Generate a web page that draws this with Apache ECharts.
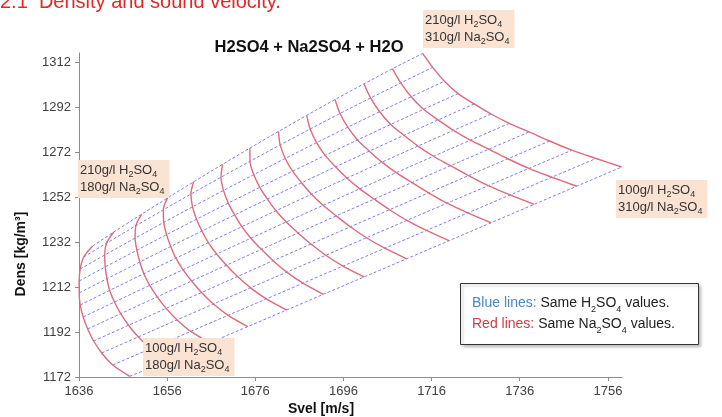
<!DOCTYPE html>
<html>
<head>
<meta charset="utf-8">
<script src="https://cdn.jsdelivr.net/npm/echarts@6/dist/echarts.min.js"></script>
<style>
  html, body { margin: 0; padding: 0; background: #fff; }
  #chart { width: 722px; height: 417px; }
</style>
</head>
<body>
<div id="chart"></div>
<script>
// H2SO4 level of each blue line (g/l), bottom to top
var h2so4 = [100, 110, 120, 130, 140, 150, 160, 170, 180, 190, 200, 210];

// grid nodes: row = one H2SO4 level, column = one Na2SO4 level (180 -> 310 g/l)
var svelGrid = [
  [1647.50, 1656.54, 1665.69, 1674.29, 1683.11, 1691.42, 1700.69, 1710.34, 1719.94, 1729.48, 1739.25, 1748.91, 1759.12],
  [1643.65, 1652.37, 1661.37, 1669.84, 1678.50, 1686.80, 1695.90, 1705.39, 1714.82, 1724.20, 1733.79, 1743.28, 1753.31],
  [1641.15, 1649.46, 1658.25, 1666.50, 1674.93, 1683.13, 1691.99, 1701.22, 1710.39, 1719.51, 1728.85, 1738.08, 1747.84],
  [1639.33, 1647.23, 1655.77, 1663.80, 1671.97, 1680.04, 1688.62, 1697.57, 1706.47, 1715.31, 1724.37, 1733.31, 1742.78],
  [1637.97, 1645.46, 1653.75, 1661.54, 1669.45, 1677.38, 1685.70, 1694.36, 1702.97, 1711.54, 1720.30, 1728.96, 1738.13],
  [1636.95, 1644.04, 1652.05, 1659.59, 1667.22, 1675.00, 1683.02, 1691.39, 1699.70, 1707.97, 1716.43, 1724.79, 1733.64],
  [1636.27, 1642.95, 1650.70, 1657.98, 1665.35, 1672.95, 1680.69, 1688.75, 1696.77, 1704.74, 1712.90, 1720.96, 1729.49],
  [1636.05, 1642.34, 1649.81, 1656.81, 1663.89, 1671.31, 1678.75, 1686.50, 1694.21, 1701.87, 1709.71, 1717.46, 1725.66],
  [1636.05, 1641.95, 1649.13, 1655.87, 1662.66, 1669.88, 1677.02, 1684.46, 1691.85, 1699.20, 1706.73, 1714.16, 1722.03],
  [1636.27, 1641.82, 1648.73, 1655.23, 1661.76, 1668.79, 1675.65, 1682.80, 1689.91, 1696.98, 1704.21, 1711.36, 1718.92],
  [1637.07, 1642.26, 1648.90, 1655.14, 1661.39, 1668.22, 1674.79, 1681.64, 1688.45, 1695.22, 1702.15, 1709.00, 1716.24],
  [1639.11, 1643.90, 1650.19, 1656.10, 1662.02, 1668.57, 1674.78, 1681.26, 1687.69, 1694.09, 1700.65, 1707.12, 1713.97]
];
var densGrid = [
  [1172.30, 1179.56, 1187.21, 1194.40, 1201.77, 1208.73, 1216.47, 1224.55, 1232.57, 1240.55, 1248.72, 1256.79, 1265.33],
  [1177.33, 1184.70, 1192.29, 1199.42, 1206.71, 1213.68, 1221.30, 1229.24, 1237.12, 1244.93, 1252.91, 1260.79, 1269.11],
  [1182.67, 1189.82, 1197.38, 1204.43, 1211.63, 1218.60, 1226.10, 1233.89, 1241.60, 1249.25, 1257.04, 1264.71, 1272.80],
  [1188.00, 1194.99, 1202.50, 1209.54, 1216.67, 1223.67, 1231.09, 1238.76, 1246.35, 1253.86, 1261.50, 1269.00, 1276.89],
  [1193.33, 1200.15, 1207.64, 1214.64, 1221.69, 1228.73, 1236.04, 1243.60, 1251.06, 1258.43, 1265.91, 1273.23, 1280.93],
  [1198.67, 1205.32, 1212.75, 1219.68, 1226.65, 1233.69, 1240.88, 1248.30, 1255.61, 1262.82, 1270.10, 1277.24, 1284.71],
  [1204.00, 1210.49, 1217.91, 1224.81, 1231.73, 1238.79, 1245.90, 1253.22, 1260.42, 1267.48, 1274.63, 1281.60, 1288.89],
  [1209.33, 1215.70, 1223.12, 1230.02, 1236.90, 1244.02, 1251.07, 1258.32, 1265.43, 1272.38, 1279.41, 1286.25, 1293.38],
  [1214.67, 1220.92, 1228.36, 1235.26, 1242.12, 1249.29, 1256.29, 1263.47, 1270.50, 1277.36, 1284.27, 1290.98, 1297.96],
  [1220.00, 1226.21, 1233.73, 1240.71, 1247.62, 1254.93, 1261.95, 1269.14, 1276.16, 1283.01, 1289.89, 1296.56, 1303.47],
  [1225.33, 1231.52, 1239.20, 1246.30, 1253.30, 1260.80, 1267.90, 1275.16, 1282.23, 1289.12, 1296.02, 1302.70, 1309.60],
  [1230.22, 1236.45, 1244.33, 1251.60, 1258.76, 1266.52, 1273.75, 1281.13, 1288.32, 1295.31, 1302.29, 1309.04, 1315.80]
];

// tick labels
var xTicks = [1636, 1656, 1676, 1696, 1716, 1736, 1756];
var yTicks = [1172, 1192, 1212, 1232, 1252, 1272, 1292, 1312];

var FONT = "'Liberation Sans', Arial, sans-serif";

var chart = echarts.init(document.getElementById('chart'));

// blue: one line per H2SO4 row
var blueSeries = h2so4.map(function (h, i) {
  return {
    name: 'H2SO4 ' + h,
    type: 'line',
    showSymbol: false,
    silent: true,
    z: 2,
    lineStyle: { color: '#7f7ff0', width: 1, type: [3, 2] },
    data: svelGrid[i].map(function (v, j) { return [v, densGrid[i][j]]; })
  };
});

// red: one line per Na2SO4 column
var redSeries = svelGrid[0].map(function (x, j) {
  return {
    name: 'Na2SO4 ' + (j + 1),
    type: 'line',
    showSymbol: false,
    silent: true,
    smooth: 0.3,
    z: 3,
    lineStyle: { color: '#e06a7c', width: 1.4 },
    data: svelGrid.map(function (row, i) { return [row[j], densGrid[i][j]]; })
  };
});

var rich = {
  s: { fontSize: 9, lineHeight: 9, verticalAlign: 'bottom', fontFamily: FONT, fill: '#333' }
};

function note(x, y, l1, l2) {
  return {
    type: 'text', left: x, top: y, z: 100,
    style: {
      text: l1 + '\n' + l2,
      rich: rich,
      font: '13px ' + FONT,
      fill: '#333',
      lineHeight: 17,
      backgroundColor: '#fbe3d4',
      padding: [2, 5, 2, 2]
    }
  };
}

function plain(v) { return String(v); }

var option = {
  animation: false,
  backgroundColor: '#fff',
  title: {
    text: 'H2SO4 + Na2SO4 + H2O',
    left: 304,
    top: 34,
    textAlign: 'center',
    textStyle: { fontSize: 16.5, fontWeight: 'bold', color: '#111', fontFamily: FONT }
  },
  grid: { left: 79, top: 53, width: 543, height: 324 },
  xAxis: {
    type: 'value',
    min: 1636,
    max: 1759.2,
    splitLine: { show: false },
    axisLine: { lineStyle: { color: '#8c8c8c', width: 1 } },
    axisTick: { show: true, length: 4, lineStyle: { color: '#8c8c8c' }, customValues: xTicks },
    axisLabel: { customValues: xTicks, formatter: plain, color: '#404040', fontSize: 13, margin: 8, fontFamily: FONT }
  },
  yAxis: {
    type: 'value',
    min: 1172,
    max: 1316,
    splitLine: { show: false },
    axisLine: { show: true, lineStyle: { color: '#8c8c8c', width: 1 } },
    axisTick: { show: true, length: 4, lineStyle: { color: '#8c8c8c' }, customValues: yTicks },
    axisLabel: { customValues: yTicks, formatter: plain, color: '#404040', fontSize: 13, margin: 8, fontFamily: FONT }
  },
  series: blueSeries.concat(redSeries),
  graphic: [
    {
      type: 'text', left: 0, top: -8, z: 100,
      style: { text: '2.1  Density and sound velocity.', font: '20px ' + FONT, fill: '#e02828' }
    },
    {
      type: 'text', x: 321, y: 409, z: 100,
      style: { text: 'Svel [m/s]', font: 'bold 14px ' + FONT, fill: '#111', align: 'center', verticalAlign: 'middle' }
    },
    {
      type: 'text', x: 21, y: 254, rotation: Math.PI / 2, z: 100,
      style: { text: 'Dens [kg/m³]', font: 'bold 14px ' + FONT, fill: '#111', align: 'center', verticalAlign: 'middle' }
    },
    note(423, 10, '210g/l H{s|2}SO{s|4}', '310g/l Na{s|2}SO{s|4}'),
    note(78, 160, '210g/l H{s|2}SO{s|4}', '180g/l Na{s|2}SO{s|4}'),
    note(616, 180, '100g/l H{s|2}SO{s|4}', '310g/l Na{s|2}SO{s|4}'),
    note(143, 338, '100g/l H{s|2}SO{s|4}', '180g/l Na{s|2}SO{s|4}'),
    {
      type: 'rect', z: 100,
      shape: { x: 460.5, y: 283.5, width: 238, height: 61 },
      style: { fill: '#fff', stroke: '#333', lineWidth: 1, shadowBlur: 3, shadowOffsetX: 2, shadowOffsetY: 2, shadowColor: 'rgba(0,0,0,0.25)' }
    },
    {
      type: 'text', left: 472, top: 293, z: 101,
      style: {
        text: '{b|Blue lines:} Same H{s|2}SO{s|4} values.\n{r|Red lines:} Same Na{s|2}SO{s|4} values.',
        font: '14px ' + FONT,
        fill: '#222',
        lineHeight: 21,
        rich: {
          b: { fill: '#4a86c8', fontSize: 14, fontFamily: FONT },
          r: { fill: '#d23c44', fontSize: 14, fontFamily: FONT },
          s: { fontSize: 9, lineHeight: 9, verticalAlign: 'bottom', fill: '#222', fontFamily: FONT }
        }
      }
    }
  ]
};

chart.setOption(option);
</script>
</body>
</html>
